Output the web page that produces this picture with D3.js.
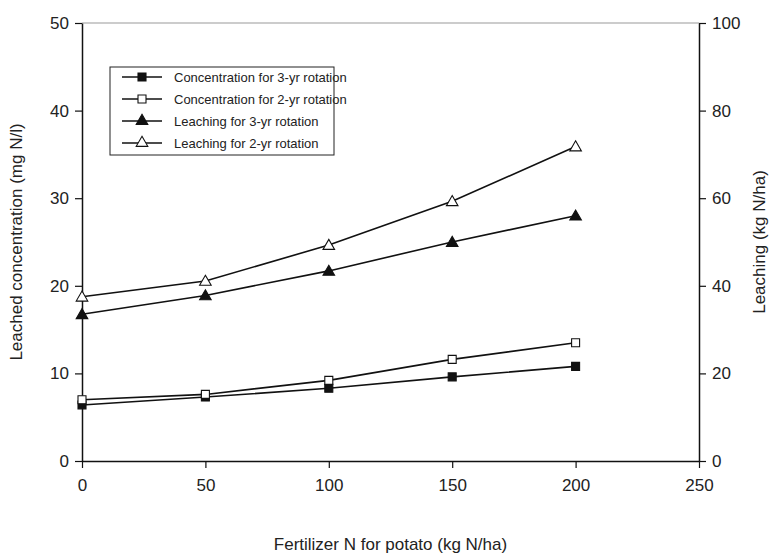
<!DOCTYPE html>
<html>
<head>
<meta charset="utf-8">
<script src="https://cdn.jsdelivr.net/npm/d3@7"></script>
<style>
  body { margin: 0; background: #fff; }
  text { font-family: "Liberation Sans", Arial, sans-serif; fill: #222; }
</style>
</head>
<body>
<svg id="chart" width="777" height="557"></svg>
<script>
// data
var fertilizer = [0, 50, 100, 150, 200];
var conc3yr = [6.4, 7.3, 8.3, 9.6, 10.8];       // mg N/l
var conc2yr = [7.0, 7.6, 9.2, 11.6, 13.5];      // mg N/l
var leach3yr = [33.5, 37.8, 43.4, 50.0, 56.0];  // kg N/ha
var leach2yr = [37.5, 41.1, 49.3, 59.3, 71.8];  // kg N/ha
var xTicks = [0, 50, 100, 150, 200, 250];
var yLeftTicks = [0, 10, 20, 30, 40, 50];
var yRightTicks = [0, 20, 40, 60, 80, 100];
var seriesNames = [
  "Concentration for 3-yr rotation",
  "Concentration for 2-yr rotation",
  "Leaching for 3-yr rotation",
  "Leaching for 2-yr rotation"
];

var margin = {top: 23, right: 78, bottom: 96, left: 82},
    width = 777 - margin.left - margin.right,
    height = 557 - margin.top - margin.bottom;

var svg = d3.select("#chart");
var g = svg.append("g")
  .attr("transform", "translate(" + margin.left + "," + margin.top + ")");

var x = d3.scaleLinear().domain([0, 250]).range([0, width]);
var yL = d3.scaleLinear().domain([0, 50]).range([height, 0]);
var yR = d3.scaleLinear().domain([0, 100]).range([height, 0]);

var series = [
  {name: seriesNames[0], vals: conc3yr, y: yL, shape: "square", fill: "#111"},
  {name: seriesNames[1], vals: conc2yr, y: yL, shape: "square", fill: "#fff"},
  {name: seriesNames[2], vals: leach3yr, y: yR, shape: "triangle", fill: "#111"},
  {name: seriesNames[3], vals: leach2yr, y: yR, shape: "triangle", fill: "#fff"}
];

// top frame line
g.append("line")
  .attr("x1", 0).attr("x2", width).attr("y1", 0).attr("y2", 0)
  .attr("stroke", "#999").attr("stroke-width", 1);

function styleAxis(sel) {
  sel.select(".domain").attr("stroke", "#111").attr("stroke-width", 1.5);
  sel.selectAll(".tick line").attr("stroke", "#111").attr("stroke-width", 1.2);
  sel.selectAll(".tick text")
    .style("font-family", "'Liberation Sans', Arial, sans-serif")
    .style("font-size", "17px").attr("fill", "#222");
}

g.append("g")
  .attr("transform", "translate(0," + height + ")")
  .call(d3.axisBottom(x).tickValues(xTicks).tickSize(7).tickSizeOuter(0).tickPadding(11))
  .call(styleAxis);

g.append("g")
  .call(d3.axisLeft(yL).tickValues(yLeftTicks).tickSize(7).tickSizeOuter(0).tickPadding(6))
  .call(styleAxis);

g.append("g")
  .attr("transform", "translate(" + width + ",0)")
  .call(d3.axisRight(yR).tickValues(yRightTicks).tickSize(7).tickSizeOuter(0).tickPadding(6))
  .call(styleAxis);

// axis titles
g.append("text")
  .attr("x", width / 2).attr("y", height + 89)
  .attr("text-anchor", "middle").style("font-size", "17px")
  .text("Fertilizer N for potato (kg N/ha)");

g.append("text")
  .attr("transform", "translate(" + (-60) + "," + (height / 2) + ") rotate(-90)")
  .attr("text-anchor", "middle").style("font-size", "17px")
  .text("Leached concentration (mg N/l)");

g.append("text")
  .attr("transform", "translate(" + (width + 66) + "," + (height / 2) + ") rotate(-90)")
  .attr("text-anchor", "middle").style("font-size", "17px")
  .text("Leaching (kg N/ha)");

var sq = d3.symbol().type(d3.symbolSquare).size(64);
var tri = d3.symbol().type(d3.symbolTriangle).size(58);

function drawMarker(sel, s) {
  sel.attr("d", s.shape === "square" ? sq() : tri())
    .attr("fill", s.fill)
    .attr("stroke", "#111")
    .attr("stroke-width", 1.1);
}

series.forEach(function(s) {
  var pts = fertilizer.map(function(f, i) { return {x: f, v: s.vals[i]}; });
  var line = d3.line()
    .x(function(d) { return x(d.x); })
    .y(function(d) { return s.y(d.v); });
  g.append("path")
    .datum(pts)
    .attr("fill", "none")
    .attr("stroke", "#111")
    .attr("stroke-width", 1.6)
    .attr("d", line);
  g.selectAll(null)
    .data(pts).enter()
    .append("path")
    .attr("transform", function(d) {
      var dy = s.shape === "triangle" ? 1 : 0;
      return "translate(" + x(d.x) + "," + (s.y(d.v) + dy) + ")";
    })
    .each(function() { drawMarker(d3.select(this), s); });
});

// legend
var legend = g.append("g").attr("transform", "translate(28,44)");
legend.append("rect")
  .attr("width", 224).attr("height", 88)
  .attr("fill", "#fff").attr("stroke", "#222").attr("stroke-width", 1);

var item = legend.selectAll(".item")
  .data(series).enter()
  .append("g")
  .attr("transform", function(d, i) { return "translate(0," + (10 + i * 22) + ")"; });

item.append("line")
  .attr("x1", 12).attr("x2", 52).attr("y1", 0).attr("y2", 0)
  .attr("stroke", "#111").attr("stroke-width", 1.5);
item.append("path")
  .attr("transform", "translate(32,0)")
  .each(function(d) { drawMarker(d3.select(this), d); });
item.append("text")
  .attr("x", 64).attr("y", 4.5)
  .style("font-size", "13px")
  .text(function(d) { return d.name; });
</script>
</body>
</html>
